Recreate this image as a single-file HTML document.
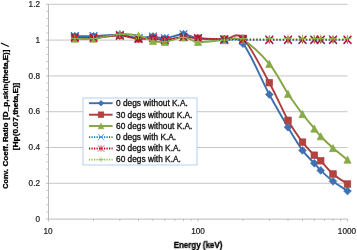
<!DOCTYPE html><html><head><meta charset="utf-8"><title>chart</title><style>
html,body{margin:0;padding:0;background:#fff;width:357px;height:250px;overflow:hidden;}
body{width:357px;height:250px;position:relative;overflow:hidden;font-family:"Liberation Sans",sans-serif;color:#1a1a1a;}
.t{position:absolute;white-space:nowrap;line-height:1;will-change:transform;}
.yl,.xl{-webkit-text-stroke:0.2px currentColor}.lg{-webkit-text-stroke:0.3px currentColor}.b{-webkit-text-stroke:0.3px currentColor}
.yl{font-size:8.15px;text-align:right;width:40px;left:0;transform-origin:100% 50%;transform:scaleX(1.01);color:#222;}
.xl{font-size:8.15px;text-align:center;width:40px;transform-origin:50% 50%;transform:scaleX(1.01);color:#222;}
.lg{font-size:8.15px;left:115.5px;transform-origin:0 50%;transform:scaleX(1.025);color:#111;}
.b{font-weight:bold;color:#000;}
#c{position:absolute;left:0;top:0;width:357px;height:250px;overflow:hidden;background:#fff;}
</style></head><body><div id="c">
<svg width="357" height="250" viewBox="0 0 357 250" style="position:absolute;left:0;top:0;will-change:transform">
<rect width="357" height="250" fill="#fff"/>
<line x1="48.50" y1="183.32" x2="347.50" y2="183.32" stroke="#b8b8b8" stroke-width="0.8"/>
<line x1="48.50" y1="147.51" x2="347.50" y2="147.51" stroke="#b8b8b8" stroke-width="0.8"/>
<line x1="48.50" y1="111.71" x2="347.50" y2="111.71" stroke="#b8b8b8" stroke-width="0.8"/>
<line x1="48.50" y1="75.91" x2="347.50" y2="75.91" stroke="#b8b8b8" stroke-width="0.8"/>
<line x1="48.50" y1="40.10" x2="347.50" y2="40.10" stroke="#b8b8b8" stroke-width="0.8"/>
<line x1="48.50" y1="4.30" x2="347.50" y2="4.30" stroke="#b8b8b8" stroke-width="0.8"/>
<line x1="48.50" y1="4.30" x2="48.50" y2="219.12" stroke="#a8a8a8" stroke-width="0.8"/>
<line x1="48.50" y1="219.12" x2="347.50" y2="219.12" stroke="#a8a8a8" stroke-width="0.8"/>
<line x1="45.90" y1="219.12" x2="48.50" y2="219.12" stroke="#a8a8a8" stroke-width="0.7"/>
<line x1="46.50" y1="211.96" x2="48.50" y2="211.96" stroke="#a8a8a8" stroke-width="0.7"/>
<line x1="46.50" y1="204.80" x2="48.50" y2="204.80" stroke="#a8a8a8" stroke-width="0.7"/>
<line x1="46.50" y1="197.64" x2="48.50" y2="197.64" stroke="#a8a8a8" stroke-width="0.7"/>
<line x1="46.50" y1="190.48" x2="48.50" y2="190.48" stroke="#a8a8a8" stroke-width="0.7"/>
<line x1="45.90" y1="183.32" x2="48.50" y2="183.32" stroke="#a8a8a8" stroke-width="0.7"/>
<line x1="46.50" y1="176.16" x2="48.50" y2="176.16" stroke="#a8a8a8" stroke-width="0.7"/>
<line x1="46.50" y1="169.00" x2="48.50" y2="169.00" stroke="#a8a8a8" stroke-width="0.7"/>
<line x1="46.50" y1="161.83" x2="48.50" y2="161.83" stroke="#a8a8a8" stroke-width="0.7"/>
<line x1="46.50" y1="154.67" x2="48.50" y2="154.67" stroke="#a8a8a8" stroke-width="0.7"/>
<line x1="45.90" y1="147.51" x2="48.50" y2="147.51" stroke="#a8a8a8" stroke-width="0.7"/>
<line x1="46.50" y1="140.35" x2="48.50" y2="140.35" stroke="#a8a8a8" stroke-width="0.7"/>
<line x1="46.50" y1="133.19" x2="48.50" y2="133.19" stroke="#a8a8a8" stroke-width="0.7"/>
<line x1="46.50" y1="126.03" x2="48.50" y2="126.03" stroke="#a8a8a8" stroke-width="0.7"/>
<line x1="46.50" y1="118.87" x2="48.50" y2="118.87" stroke="#a8a8a8" stroke-width="0.7"/>
<line x1="45.90" y1="111.71" x2="48.50" y2="111.71" stroke="#a8a8a8" stroke-width="0.7"/>
<line x1="46.50" y1="104.55" x2="48.50" y2="104.55" stroke="#a8a8a8" stroke-width="0.7"/>
<line x1="46.50" y1="97.39" x2="48.50" y2="97.39" stroke="#a8a8a8" stroke-width="0.7"/>
<line x1="46.50" y1="90.23" x2="48.50" y2="90.23" stroke="#a8a8a8" stroke-width="0.7"/>
<line x1="46.50" y1="83.07" x2="48.50" y2="83.07" stroke="#a8a8a8" stroke-width="0.7"/>
<line x1="45.90" y1="75.91" x2="48.50" y2="75.91" stroke="#a8a8a8" stroke-width="0.7"/>
<line x1="46.50" y1="68.75" x2="48.50" y2="68.75" stroke="#a8a8a8" stroke-width="0.7"/>
<line x1="46.50" y1="61.59" x2="48.50" y2="61.59" stroke="#a8a8a8" stroke-width="0.7"/>
<line x1="46.50" y1="54.42" x2="48.50" y2="54.42" stroke="#a8a8a8" stroke-width="0.7"/>
<line x1="46.50" y1="47.26" x2="48.50" y2="47.26" stroke="#a8a8a8" stroke-width="0.7"/>
<line x1="45.90" y1="40.10" x2="48.50" y2="40.10" stroke="#a8a8a8" stroke-width="0.7"/>
<line x1="46.50" y1="32.94" x2="48.50" y2="32.94" stroke="#a8a8a8" stroke-width="0.7"/>
<line x1="46.50" y1="25.78" x2="48.50" y2="25.78" stroke="#a8a8a8" stroke-width="0.7"/>
<line x1="46.50" y1="18.62" x2="48.50" y2="18.62" stroke="#a8a8a8" stroke-width="0.7"/>
<line x1="46.50" y1="11.46" x2="48.50" y2="11.46" stroke="#a8a8a8" stroke-width="0.7"/>
<line x1="45.90" y1="4.30" x2="48.50" y2="4.30" stroke="#a8a8a8" stroke-width="0.7"/>
<line x1="48.50" y1="219.12" x2="48.50" y2="221.72" stroke="#a8a8a8" stroke-width="0.7"/>
<line x1="93.50" y1="219.12" x2="93.50" y2="221.12" stroke="#a8a8a8" stroke-width="0.7"/>
<line x1="119.83" y1="219.12" x2="119.83" y2="221.12" stroke="#a8a8a8" stroke-width="0.7"/>
<line x1="138.51" y1="219.12" x2="138.51" y2="221.12" stroke="#a8a8a8" stroke-width="0.7"/>
<line x1="153.00" y1="219.12" x2="153.00" y2="221.12" stroke="#a8a8a8" stroke-width="0.7"/>
<line x1="164.83" y1="219.12" x2="164.83" y2="221.12" stroke="#a8a8a8" stroke-width="0.7"/>
<line x1="174.84" y1="219.12" x2="174.84" y2="221.12" stroke="#a8a8a8" stroke-width="0.7"/>
<line x1="183.51" y1="219.12" x2="183.51" y2="221.12" stroke="#a8a8a8" stroke-width="0.7"/>
<line x1="191.16" y1="219.12" x2="191.16" y2="221.12" stroke="#a8a8a8" stroke-width="0.7"/>
<line x1="198.00" y1="219.12" x2="198.00" y2="221.72" stroke="#a8a8a8" stroke-width="0.7"/>
<line x1="243.00" y1="219.12" x2="243.00" y2="221.12" stroke="#a8a8a8" stroke-width="0.7"/>
<line x1="269.33" y1="219.12" x2="269.33" y2="221.12" stroke="#a8a8a8" stroke-width="0.7"/>
<line x1="288.01" y1="219.12" x2="288.01" y2="221.12" stroke="#a8a8a8" stroke-width="0.7"/>
<line x1="302.50" y1="219.12" x2="302.50" y2="221.12" stroke="#a8a8a8" stroke-width="0.7"/>
<line x1="314.33" y1="219.12" x2="314.33" y2="221.12" stroke="#a8a8a8" stroke-width="0.7"/>
<line x1="324.34" y1="219.12" x2="324.34" y2="221.12" stroke="#a8a8a8" stroke-width="0.7"/>
<line x1="333.01" y1="219.12" x2="333.01" y2="221.12" stroke="#a8a8a8" stroke-width="0.7"/>
<line x1="340.66" y1="219.12" x2="340.66" y2="221.12" stroke="#a8a8a8" stroke-width="0.7"/>
<line x1="347.50" y1="219.12" x2="347.50" y2="221.72" stroke="#a8a8a8" stroke-width="0.7"/>
<path d="M74.83 36.16 C77.94 36.16 86.00 36.40 93.50 36.16 C101.00 35.93 112.33 34.43 119.83 34.73 C127.33 35.03 132.98 37.66 138.51 37.96 C144.04 38.25 148.61 36.46 153.00 36.52 C157.38 36.58 159.75 38.70 164.83 38.31 C169.92 37.93 177.98 34.20 183.51 34.20 C189.04 34.20 191.20 37.33 198.00 38.31 C204.80 39.30 216.82 39.21 224.33 40.10 C231.83 41.00 235.50 34.61 243.00 43.68 C250.50 52.75 261.83 80.59 269.33 94.52 C276.83 108.46 282.48 117.98 288.01 127.28 C293.54 136.59 298.11 144.38 302.50 150.38 C306.88 156.37 311.30 159.93 314.33 163.27 C317.37 166.61 317.61 167.41 320.72 170.43 C323.83 173.44 328.55 177.92 333.01 181.35 C337.48 184.78 345.09 189.40 347.50 191.01" fill="none" stroke="#3d6fae" stroke-width="1.9" stroke-linejoin="round" stroke-linecap="round"/>
<path d="M74.83 32.26 L78.73 36.16 L74.83 40.06 L70.93 36.16Z" fill="#3f72b2" stroke="#3d6fae" stroke-width="0.6"/>
<path d="M93.50 32.26 L97.40 36.16 L93.50 40.06 L89.60 36.16Z" fill="#3f72b2" stroke="#3d6fae" stroke-width="0.6"/>
<path d="M119.83 30.83 L123.73 34.73 L119.83 38.63 L115.93 34.73Z" fill="#3f72b2" stroke="#3d6fae" stroke-width="0.6"/>
<path d="M138.51 34.06 L142.41 37.96 L138.51 41.86 L134.61 37.96Z" fill="#3f72b2" stroke="#3d6fae" stroke-width="0.6"/>
<path d="M153.00 32.62 L156.90 36.52 L153.00 40.42 L149.10 36.52Z" fill="#3f72b2" stroke="#3d6fae" stroke-width="0.6"/>
<path d="M164.83 34.41 L168.73 38.31 L164.83 42.21 L160.93 38.31Z" fill="#3f72b2" stroke="#3d6fae" stroke-width="0.6"/>
<path d="M183.51 30.30 L187.41 34.20 L183.51 38.10 L179.61 34.20Z" fill="#3f72b2" stroke="#3d6fae" stroke-width="0.6"/>
<path d="M198.00 34.41 L201.90 38.31 L198.00 42.21 L194.10 38.31Z" fill="#3f72b2" stroke="#3d6fae" stroke-width="0.6"/>
<path d="M224.33 36.20 L228.23 40.10 L224.33 44.00 L220.43 40.10Z" fill="#3f72b2" stroke="#3d6fae" stroke-width="0.6"/>
<path d="M243.00 39.78 L246.90 43.68 L243.00 47.58 L239.10 43.68Z" fill="#3f72b2" stroke="#3d6fae" stroke-width="0.6"/>
<path d="M269.33 90.62 L273.23 94.52 L269.33 98.42 L265.43 94.52Z" fill="#3f72b2" stroke="#3d6fae" stroke-width="0.6"/>
<path d="M288.01 123.38 L291.91 127.28 L288.01 131.18 L284.11 127.28Z" fill="#3f72b2" stroke="#3d6fae" stroke-width="0.6"/>
<path d="M302.50 146.48 L306.40 150.38 L302.50 154.28 L298.60 150.38Z" fill="#3f72b2" stroke="#3d6fae" stroke-width="0.6"/>
<path d="M314.33 159.37 L318.23 163.27 L314.33 167.17 L310.43 163.27Z" fill="#3f72b2" stroke="#3d6fae" stroke-width="0.6"/>
<path d="M320.72 166.53 L324.62 170.43 L320.72 174.33 L316.82 170.43Z" fill="#3f72b2" stroke="#3d6fae" stroke-width="0.6"/>
<path d="M333.01 177.45 L336.91 181.35 L333.01 185.25 L329.11 181.35Z" fill="#3f72b2" stroke="#3d6fae" stroke-width="0.6"/>
<path d="M347.50 187.11 L351.40 191.01 L347.50 194.91 L343.60 191.01Z" fill="#3f72b2" stroke="#3d6fae" stroke-width="0.6"/>
<path d="M74.83 37.60 C77.94 37.63 86.00 38.10 93.50 37.78 C101.00 37.45 112.33 35.45 119.83 35.63 C127.33 35.81 132.98 38.40 138.51 38.85 C144.04 39.30 148.61 38.10 153.00 38.31 C157.38 38.52 159.75 40.34 164.83 40.10 C169.92 39.86 177.98 37.18 183.51 36.88 C189.04 36.58 191.20 37.93 198.00 38.31 C204.80 38.70 216.82 39.21 224.33 39.21 C231.83 39.21 235.50 31.06 243.00 38.31 C250.50 45.56 261.83 69.04 269.33 82.71 C276.83 96.37 282.48 110.40 288.01 120.30 C293.54 130.21 298.11 136.32 302.50 142.14 C306.88 147.96 311.30 152.11 314.33 155.21 C317.37 158.31 317.61 157.63 320.72 160.76 C323.83 163.89 328.55 170.13 333.01 174.01 C337.48 177.89 345.09 182.36 347.50 184.03" fill="none" stroke="#ab3f3d" stroke-width="1.9" stroke-linejoin="round" stroke-linecap="round"/>
<rect x="71.53" y="34.30" width="6.60" height="6.60" fill="#b44240" stroke="#ab3f3d" stroke-width="0.6"/>
<rect x="90.20" y="34.48" width="6.60" height="6.60" fill="#b44240" stroke="#ab3f3d" stroke-width="0.6"/>
<rect x="116.53" y="32.33" width="6.60" height="6.60" fill="#b44240" stroke="#ab3f3d" stroke-width="0.6"/>
<rect x="135.21" y="35.55" width="6.60" height="6.60" fill="#b44240" stroke="#ab3f3d" stroke-width="0.6"/>
<rect x="149.70" y="35.01" width="6.60" height="6.60" fill="#b44240" stroke="#ab3f3d" stroke-width="0.6"/>
<rect x="161.53" y="36.80" width="6.60" height="6.60" fill="#b44240" stroke="#ab3f3d" stroke-width="0.6"/>
<rect x="180.21" y="33.58" width="6.60" height="6.60" fill="#b44240" stroke="#ab3f3d" stroke-width="0.6"/>
<rect x="194.70" y="35.01" width="6.60" height="6.60" fill="#b44240" stroke="#ab3f3d" stroke-width="0.6"/>
<rect x="221.03" y="35.91" width="6.60" height="6.60" fill="#b44240" stroke="#ab3f3d" stroke-width="0.6"/>
<rect x="239.70" y="35.01" width="6.60" height="6.60" fill="#b44240" stroke="#ab3f3d" stroke-width="0.6"/>
<rect x="266.03" y="79.41" width="6.60" height="6.60" fill="#b44240" stroke="#ab3f3d" stroke-width="0.6"/>
<rect x="284.71" y="117.00" width="6.60" height="6.60" fill="#b44240" stroke="#ab3f3d" stroke-width="0.6"/>
<rect x="299.20" y="138.84" width="6.60" height="6.60" fill="#b44240" stroke="#ab3f3d" stroke-width="0.6"/>
<rect x="311.03" y="151.91" width="6.60" height="6.60" fill="#b44240" stroke="#ab3f3d" stroke-width="0.6"/>
<rect x="317.42" y="157.46" width="6.60" height="6.60" fill="#b44240" stroke="#ab3f3d" stroke-width="0.6"/>
<rect x="329.71" y="170.71" width="6.60" height="6.60" fill="#b44240" stroke="#ab3f3d" stroke-width="0.6"/>
<rect x="344.20" y="180.73" width="6.60" height="6.60" fill="#b44240" stroke="#ab3f3d" stroke-width="0.6"/>
<path d="M74.83 38.67 C77.94 38.67 86.00 39.42 93.50 38.67 C101.00 37.93 112.33 34.70 119.83 34.20 C127.33 33.69 132.98 34.49 138.51 35.63 C144.04 36.76 148.61 39.95 153.00 41.00 C157.38 42.04 159.75 42.49 164.83 41.89 C169.92 41.30 177.98 37.42 183.51 37.42 C189.04 37.42 191.20 41.45 198.00 41.89 C204.80 42.34 216.82 40.40 224.33 40.10 C231.83 39.80 235.50 36.14 243.00 40.10 C250.50 44.07 261.83 54.96 269.33 63.91 C276.83 72.86 282.48 85.45 288.01 93.81 C293.54 102.16 298.11 108.25 302.50 114.04 C306.88 119.83 311.30 124.84 314.33 128.54 C317.37 132.24 317.61 132.98 320.72 136.24 C323.83 139.49 328.55 144.14 333.01 148.05 C337.48 151.96 345.09 157.75 347.50 159.69" fill="none" stroke="#82a542" stroke-width="1.9" stroke-linejoin="round" stroke-linecap="round"/>
<path d="M74.83 35.07 L78.43 42.27 L71.23 42.27Z" fill="#88ab46" stroke="#82a542" stroke-width="0.6"/>
<path d="M93.50 35.07 L97.10 42.27 L89.90 42.27Z" fill="#88ab46" stroke="#82a542" stroke-width="0.6"/>
<path d="M119.83 30.60 L123.43 37.80 L116.23 37.80Z" fill="#88ab46" stroke="#82a542" stroke-width="0.6"/>
<path d="M138.51 32.03 L142.11 39.23 L134.91 39.23Z" fill="#88ab46" stroke="#82a542" stroke-width="0.6"/>
<path d="M153.00 37.40 L156.60 44.60 L149.40 44.60Z" fill="#88ab46" stroke="#82a542" stroke-width="0.6"/>
<path d="M164.83 38.29 L168.43 45.49 L161.23 45.49Z" fill="#88ab46" stroke="#82a542" stroke-width="0.6"/>
<path d="M183.51 33.82 L187.11 41.02 L179.91 41.02Z" fill="#88ab46" stroke="#82a542" stroke-width="0.6"/>
<path d="M198.00 38.29 L201.60 45.49 L194.40 45.49Z" fill="#88ab46" stroke="#82a542" stroke-width="0.6"/>
<path d="M224.33 36.50 L227.93 43.70 L220.73 43.70Z" fill="#88ab46" stroke="#82a542" stroke-width="0.6"/>
<path d="M243.00 36.50 L246.60 43.70 L239.40 43.70Z" fill="#88ab46" stroke="#82a542" stroke-width="0.6"/>
<path d="M269.33 60.31 L272.93 67.51 L265.73 67.51Z" fill="#88ab46" stroke="#82a542" stroke-width="0.6"/>
<path d="M288.01 90.21 L291.61 97.41 L284.41 97.41Z" fill="#88ab46" stroke="#82a542" stroke-width="0.6"/>
<path d="M302.50 110.44 L306.10 117.64 L298.90 117.64Z" fill="#88ab46" stroke="#82a542" stroke-width="0.6"/>
<path d="M314.33 124.94 L317.93 132.14 L310.73 132.14Z" fill="#88ab46" stroke="#82a542" stroke-width="0.6"/>
<path d="M320.72 132.64 L324.32 139.84 L317.12 139.84Z" fill="#88ab46" stroke="#82a542" stroke-width="0.6"/>
<path d="M333.01 144.45 L336.61 151.65 L329.41 151.65Z" fill="#88ab46" stroke="#82a542" stroke-width="0.6"/>
<path d="M347.50 156.09 L351.10 163.29 L343.90 163.29Z" fill="#88ab46" stroke="#82a542" stroke-width="0.6"/>
<path d="M74.83 36.16 C77.94 36.16 86.00 36.40 93.50 36.16 C101.00 35.93 112.33 34.43 119.83 34.73 C127.33 35.03 132.98 37.66 138.51 37.96 C144.04 38.25 148.61 36.46 153.00 36.52 C157.38 36.58 159.75 38.70 164.83 38.31 C169.92 37.93 177.98 34.20 183.51 34.20 C189.04 34.20 191.20 37.33 198.00 38.31 C204.80 39.30 216.82 39.79 224.33 40.10 C231.83 40.41 235.50 40.16 243.00 40.17" fill="none" stroke="#1a76d2" stroke-width="1.05" stroke-dasharray="1.5 1.8"/>
<path d="M243.00 40.17 C250.50 40.19 261.83 40.17 269.33 40.17 C276.83 40.17 282.48 40.17 288.01 40.17 C293.54 40.17 298.11 40.17 302.50 40.17 C306.88 40.17 311.30 40.17 314.33 40.17 C317.37 40.17 317.61 40.17 320.72 40.17 C323.83 40.17 328.55 40.17 333.01 40.17 C337.48 40.17 345.09 40.17 347.50 40.17" fill="none" stroke="#1a76d2" stroke-width="1.05" stroke-dasharray="1.5 1.8"/>
<path d="M70.93 32.26 L78.73 40.06 M70.93 40.06 L78.73 32.26" stroke="#1a76d2" stroke-width="1.1" fill="none"/>
<path d="M89.60 32.26 L97.40 40.06 M89.60 40.06 L97.40 32.26" stroke="#1a76d2" stroke-width="1.1" fill="none"/>
<path d="M115.93 30.83 L123.73 38.63 M115.93 38.63 L123.73 30.83" stroke="#1a76d2" stroke-width="1.1" fill="none"/>
<path d="M134.61 34.06 L142.41 41.86 M134.61 41.86 L142.41 34.06" stroke="#1a76d2" stroke-width="1.1" fill="none"/>
<path d="M149.10 32.62 L156.90 40.42 M149.10 40.42 L156.90 32.62" stroke="#1a76d2" stroke-width="1.1" fill="none"/>
<path d="M160.93 34.41 L168.73 42.21 M160.93 42.21 L168.73 34.41" stroke="#1a76d2" stroke-width="1.1" fill="none"/>
<path d="M179.61 30.30 L187.41 38.10 M179.61 38.10 L187.41 30.30" stroke="#1a76d2" stroke-width="1.1" fill="none"/>
<path d="M194.10 34.41 L201.90 42.21 M194.10 42.21 L201.90 34.41" stroke="#1a76d2" stroke-width="1.1" fill="none"/>
<path d="M220.43 36.20 L228.23 44.00 M220.43 44.00 L228.23 36.20" stroke="#1a76d2" stroke-width="1.1" fill="none"/>
<path d="M239.10 36.27 L246.90 44.07 M239.10 44.07 L246.90 36.27" stroke="#1a76d2" stroke-width="1.1" fill="none"/>
<path d="M265.43 36.27 L273.23 44.07 M265.43 44.07 L273.23 36.27" stroke="#1a76d2" stroke-width="1.1" fill="none"/>
<path d="M284.11 36.27 L291.91 44.07 M284.11 44.07 L291.91 36.27" stroke="#1a76d2" stroke-width="1.1" fill="none"/>
<path d="M298.60 36.27 L306.40 44.07 M298.60 44.07 L306.40 36.27" stroke="#1a76d2" stroke-width="1.1" fill="none"/>
<path d="M310.43 36.27 L318.23 44.07 M310.43 44.07 L318.23 36.27" stroke="#1a76d2" stroke-width="1.1" fill="none"/>
<path d="M316.82 36.27 L324.62 44.07 M316.82 44.07 L324.62 36.27" stroke="#1a76d2" stroke-width="1.1" fill="none"/>
<path d="M329.11 36.27 L336.91 44.07 M329.11 44.07 L336.91 36.27" stroke="#1a76d2" stroke-width="1.1" fill="none"/>
<path d="M343.60 36.27 L351.40 44.07 M343.60 44.07 L351.40 36.27" stroke="#1a76d2" stroke-width="1.1" fill="none"/>
<path d="M74.83 37.60 C77.94 37.63 86.00 38.10 93.50 37.78 C101.00 37.45 112.33 35.45 119.83 35.63 C127.33 35.81 132.98 38.40 138.51 38.85 C144.04 39.30 148.61 38.10 153.00 38.31 C157.38 38.52 159.75 40.34 164.83 40.10 C169.92 39.86 177.98 37.18 183.51 36.88 C189.04 36.58 191.20 37.93 198.00 38.31 C204.80 38.70 216.82 38.99 224.33 39.21 C231.83 39.42 235.50 39.54 243.00 39.60" fill="none" stroke="#c8001e" stroke-width="1.05" stroke-dasharray="1.5 1.8"/>
<path d="M243.00 39.60 C250.50 39.67 261.83 39.60 269.33 39.60 C276.83 39.60 282.48 39.60 288.01 39.60 C293.54 39.60 298.11 39.60 302.50 39.60 C306.88 39.60 311.30 39.60 314.33 39.60 C317.37 39.60 317.61 39.60 320.72 39.60 C323.83 39.60 328.55 39.60 333.01 39.60 C337.48 39.60 345.09 39.60 347.50 39.60" fill="none" stroke="#c8001e" stroke-width="1.05" stroke-dasharray="1.5 1.8"/>
<path d="M70.93 33.70 L78.73 41.50 M70.93 41.50 L78.73 33.70 M74.83 33.70 L74.83 41.50" stroke="#c8001e" stroke-width="1.1" fill="none"/>
<path d="M89.60 33.88 L97.40 41.68 M89.60 41.68 L97.40 33.88 M93.50 33.88 L93.50 41.68" stroke="#c8001e" stroke-width="1.1" fill="none"/>
<path d="M115.93 31.73 L123.73 39.53 M115.93 39.53 L123.73 31.73 M119.83 31.73 L119.83 39.53" stroke="#c8001e" stroke-width="1.1" fill="none"/>
<path d="M134.61 34.95 L142.41 42.75 M134.61 42.75 L142.41 34.95 M138.51 34.95 L138.51 42.75" stroke="#c8001e" stroke-width="1.1" fill="none"/>
<path d="M149.10 34.41 L156.90 42.21 M149.10 42.21 L156.90 34.41 M153.00 34.41 L153.00 42.21" stroke="#c8001e" stroke-width="1.1" fill="none"/>
<path d="M160.93 36.20 L168.73 44.00 M160.93 44.00 L168.73 36.20 M164.83 36.20 L164.83 44.00" stroke="#c8001e" stroke-width="1.1" fill="none"/>
<path d="M179.61 32.98 L187.41 40.78 M179.61 40.78 L187.41 32.98 M183.51 32.98 L183.51 40.78" stroke="#c8001e" stroke-width="1.1" fill="none"/>
<path d="M194.10 34.41 L201.90 42.21 M194.10 42.21 L201.90 34.41 M198.00 34.41 L198.00 42.21" stroke="#c8001e" stroke-width="1.1" fill="none"/>
<path d="M220.43 35.31 L228.23 43.11 M220.43 43.11 L228.23 35.31 M224.33 35.31 L224.33 43.11" stroke="#c8001e" stroke-width="1.1" fill="none"/>
<path d="M239.10 35.70 L246.90 43.50 M239.10 43.50 L246.90 35.70 M243.00 35.70 L243.00 43.50" stroke="#c8001e" stroke-width="1.1" fill="none"/>
<path d="M265.43 35.70 L273.23 43.50 M265.43 43.50 L273.23 35.70 M269.33 35.70 L269.33 43.50" stroke="#c8001e" stroke-width="1.1" fill="none"/>
<path d="M284.11 35.70 L291.91 43.50 M284.11 43.50 L291.91 35.70 M288.01 35.70 L288.01 43.50" stroke="#c8001e" stroke-width="1.1" fill="none"/>
<path d="M298.60 35.70 L306.40 43.50 M298.60 43.50 L306.40 35.70 M302.50 35.70 L302.50 43.50" stroke="#c8001e" stroke-width="1.1" fill="none"/>
<path d="M310.43 35.70 L318.23 43.50 M310.43 43.50 L318.23 35.70 M314.33 35.70 L314.33 43.50" stroke="#c8001e" stroke-width="1.1" fill="none"/>
<path d="M316.82 35.70 L324.62 43.50 M316.82 43.50 L324.62 35.70 M320.72 35.70 L320.72 43.50" stroke="#c8001e" stroke-width="1.1" fill="none"/>
<path d="M329.11 35.70 L336.91 43.50 M329.11 43.50 L336.91 35.70 M333.01 35.70 L333.01 43.50" stroke="#c8001e" stroke-width="1.1" fill="none"/>
<path d="M343.60 35.70 L351.40 43.50 M343.60 43.50 L351.40 35.70 M347.50 35.70 L347.50 43.50" stroke="#c8001e" stroke-width="1.1" fill="none"/>
<path d="M74.83 38.67 C77.94 38.67 86.00 39.42 93.50 38.67 C101.00 37.93 112.33 34.70 119.83 34.20 C127.33 33.69 132.98 34.49 138.51 35.63 C144.04 36.76 148.61 39.95 153.00 41.00 C157.38 42.04 159.75 42.49 164.83 41.89 C169.92 41.30 177.98 37.42 183.51 37.42 C189.04 37.42 191.20 41.45 198.00 41.89 C204.80 42.34 216.82 40.63 224.33 40.10 C231.83 39.57 235.50 38.94 243.00 38.71" fill="none" stroke="#92c050" stroke-width="1.05" stroke-dasharray="1.5 1.8"/>
<path d="M243.00 38.71 C250.50 38.47 261.83 38.71 269.33 38.71 C276.83 38.71 282.48 38.71 288.01 38.71 C293.54 38.71 298.11 38.71 302.50 38.71 C306.88 38.71 311.30 38.71 314.33 38.71 C317.37 38.71 317.61 38.71 320.72 38.71 C323.83 38.71 328.55 38.71 333.01 38.71 C337.48 38.71 345.09 38.71 347.50 38.71" fill="none" stroke="#92c050" stroke-width="1.05" stroke-dasharray="1.5 1.8"/>
<path d="M70.93 38.67 L78.73 38.67 M74.83 34.77 L74.83 42.57" stroke="#92c050" stroke-width="0.95" fill="none"/>
<path d="M89.60 38.67 L97.40 38.67 M93.50 34.77 L93.50 42.57" stroke="#92c050" stroke-width="0.95" fill="none"/>
<path d="M115.93 34.20 L123.73 34.20 M119.83 30.30 L119.83 38.10" stroke="#92c050" stroke-width="0.95" fill="none"/>
<path d="M134.61 35.63 L142.41 35.63 M138.51 31.73 L138.51 39.53" stroke="#92c050" stroke-width="0.95" fill="none"/>
<path d="M149.10 41.00 L156.90 41.00 M153.00 37.10 L153.00 44.90" stroke="#92c050" stroke-width="0.95" fill="none"/>
<path d="M160.93 41.89 L168.73 41.89 M164.83 37.99 L164.83 45.79" stroke="#92c050" stroke-width="0.95" fill="none"/>
<path d="M179.61 37.42 L187.41 37.42 M183.51 33.52 L183.51 41.32" stroke="#92c050" stroke-width="0.95" fill="none"/>
<path d="M194.10 41.89 L201.90 41.89 M198.00 37.99 L198.00 45.79" stroke="#92c050" stroke-width="0.95" fill="none"/>
<path d="M220.43 40.10 L228.23 40.10 M224.33 36.20 L224.33 44.00" stroke="#92c050" stroke-width="0.95" fill="none"/>
<path d="M239.10 38.71 L246.90 38.71 M243.00 34.81 L243.00 42.61" stroke="#92c050" stroke-width="0.95" fill="none"/>
<path d="M265.43 38.71 L273.23 38.71 M269.33 34.81 L269.33 42.61" stroke="#92c050" stroke-width="0.95" fill="none"/>
<path d="M284.11 38.71 L291.91 38.71 M288.01 34.81 L288.01 42.61" stroke="#92c050" stroke-width="0.95" fill="none"/>
<path d="M298.60 38.71 L306.40 38.71 M302.50 34.81 L302.50 42.61" stroke="#92c050" stroke-width="0.95" fill="none"/>
<path d="M310.43 38.71 L318.23 38.71 M314.33 34.81 L314.33 42.61" stroke="#92c050" stroke-width="0.95" fill="none"/>
<path d="M316.82 38.71 L324.62 38.71 M320.72 34.81 L320.72 42.61" stroke="#92c050" stroke-width="0.95" fill="none"/>
<path d="M329.11 38.71 L336.91 38.71 M333.01 34.81 L333.01 42.61" stroke="#92c050" stroke-width="0.95" fill="none"/>
<path d="M343.60 38.71 L351.40 38.71 M347.50 34.81 L347.50 42.61" stroke="#92c050" stroke-width="0.95" fill="none"/>
<rect x="83.00" y="98.00" width="114.00" height="67.00" fill="#fff" stroke="#9dbfe8" stroke-width="0.75"/>
<line x1="89.00" y1="103.20" x2="112.60" y2="103.20" stroke="#3d6fae" stroke-width="1.9"/>
<path d="M101.00 100.40 L103.80 103.20 L101.00 106.00 L98.20 103.20Z" fill="#3f72b2" stroke="#3d6fae" stroke-width="0.6"/>
<line x1="89.00" y1="114.70" x2="112.60" y2="114.70" stroke="#ab3f3d" stroke-width="1.9"/>
<rect x="98.20" y="111.90" width="5.60" height="5.60" fill="#b44240" stroke="#ab3f3d" stroke-width="0.6"/>
<line x1="89.00" y1="126.00" x2="112.60" y2="126.00" stroke="#82a542" stroke-width="1.9"/>
<path d="M101.00 123.20 L103.80 128.80 L98.20 128.80Z" fill="#88ab46" stroke="#82a542" stroke-width="0.6"/>
<line x1="89.00" y1="137.10" x2="112.60" y2="137.10" stroke="#1a76d2" stroke-width="1.8" stroke-dasharray="1.25 1.25"/>
<path d="M97.80 133.90 L104.20 140.30 M97.80 140.30 L104.20 133.90" stroke="#1a76d2" stroke-width="0.65" fill="none"/>
<line x1="89.00" y1="148.50" x2="112.60" y2="148.50" stroke="#c8001e" stroke-width="1.8" stroke-dasharray="1.25 1.25"/>
<path d="M97.80 145.30 L104.20 151.70 M97.80 151.70 L104.20 145.30 M101.00 145.30 L101.00 151.70" stroke="#c8001e" stroke-width="0.65" fill="none"/>
<line x1="89.00" y1="159.60" x2="112.60" y2="159.60" stroke="#92c050" stroke-width="1.8" stroke-dasharray="1.25 1.25"/>
<path d="M98.30 159.60 L103.70 159.60 M101.00 156.90 L101.00 162.30" stroke="#92c050" stroke-width="0.65" fill="none"/>
<text transform="translate(7.65 188.65) rotate(-90)" textLength="19.40" lengthAdjust="spacingAndGlyphs" font-family="Liberation Sans, sans-serif" font-weight="bold" font-size="7.75" fill="#000" stroke="#000" stroke-width="0.3">Conv.</text>
<text transform="translate(7.65 166.55) rotate(-90)" textLength="22.80" lengthAdjust="spacingAndGlyphs" font-family="Liberation Sans, sans-serif" font-weight="bold" font-size="7.75" fill="#000" stroke="#000" stroke-width="0.3">Coeff.</text>
<text transform="translate(7.65 142.05) rotate(-90)" textLength="19.50" lengthAdjust="spacingAndGlyphs" font-family="Liberation Sans, sans-serif" font-weight="bold" font-size="7.75" fill="#000" stroke="#000" stroke-width="0.3">Ratio</text>
<text transform="translate(7.65 119.95) rotate(-90)" textLength="20.40" lengthAdjust="spacingAndGlyphs" font-family="Liberation Sans, sans-serif" font-weight="bold" font-size="7.75" fill="#000" stroke="#000" stroke-width="0.3">[D_p,</text>
<text transform="translate(7.65 99.25) rotate(-90)" textLength="49.50" lengthAdjust="spacingAndGlyphs" font-family="Liberation Sans, sans-serif" font-weight="bold" font-size="7.75" fill="#000" stroke="#000" stroke-width="0.3">skin(theta,E)]</text>
<line x1="8.8" y1="46.6" x2="0.9" y2="43.0" stroke="#000" stroke-width="1.15"/>
<text transform="translate(18.20 150.35) rotate(-90)" textLength="35.50" lengthAdjust="spacingAndGlyphs" font-family="Liberation Sans, sans-serif" font-weight="bold" font-size="7.75" fill="#000" stroke="#000" stroke-width="0.3">[Hp(0.07,</text>
<text transform="translate(18.20 114.85) rotate(-90)" textLength="32.10" lengthAdjust="spacingAndGlyphs" font-family="Liberation Sans, sans-serif" font-weight="bold" font-size="7.75" fill="#000" stroke="#000" stroke-width="0.3">theta,E)]</text>
</svg>
<div class="t yl" style="top:216px">0</div>
<div class="t yl" style="top:180px">0.2</div>
<div class="t yl" style="top:144px">0.4</div>
<div class="t yl" style="top:108px">0.6</div>
<div class="t yl" style="top:73px">0.8</div>
<div class="t yl" style="top:37px">1</div>
<div class="t yl" style="top:1px">1.2</div>
<div class="t xl" style="left:28.00px;top:228px">10</div>
<div class="t xl" style="left:177.50px;top:228px">100</div>
<div class="t xl" style="left:327.00px;top:228px">1000</div>
<div class="t lg" style="top:100px">0 degs without K.A.</div>
<div class="t lg" style="top:112px">30 degs without K.A.</div>
<div class="t lg" style="top:123px">60 degs without K.A.</div>
<div class="t lg" style="top:134px">0 degs with K.A.</div>
<div class="t lg" style="top:145px">30 degs with K.A.</div>
<div class="t lg" style="top:156px">60 degs with K.A.</div>
<div class="t b" id="xt" style="font-size:8.4px;left:148.1px;top:241.20000000000002px;width:100px;text-align:center;transform:scaleX(0.953)">Energy (keV)</div>
</div></body></html>
